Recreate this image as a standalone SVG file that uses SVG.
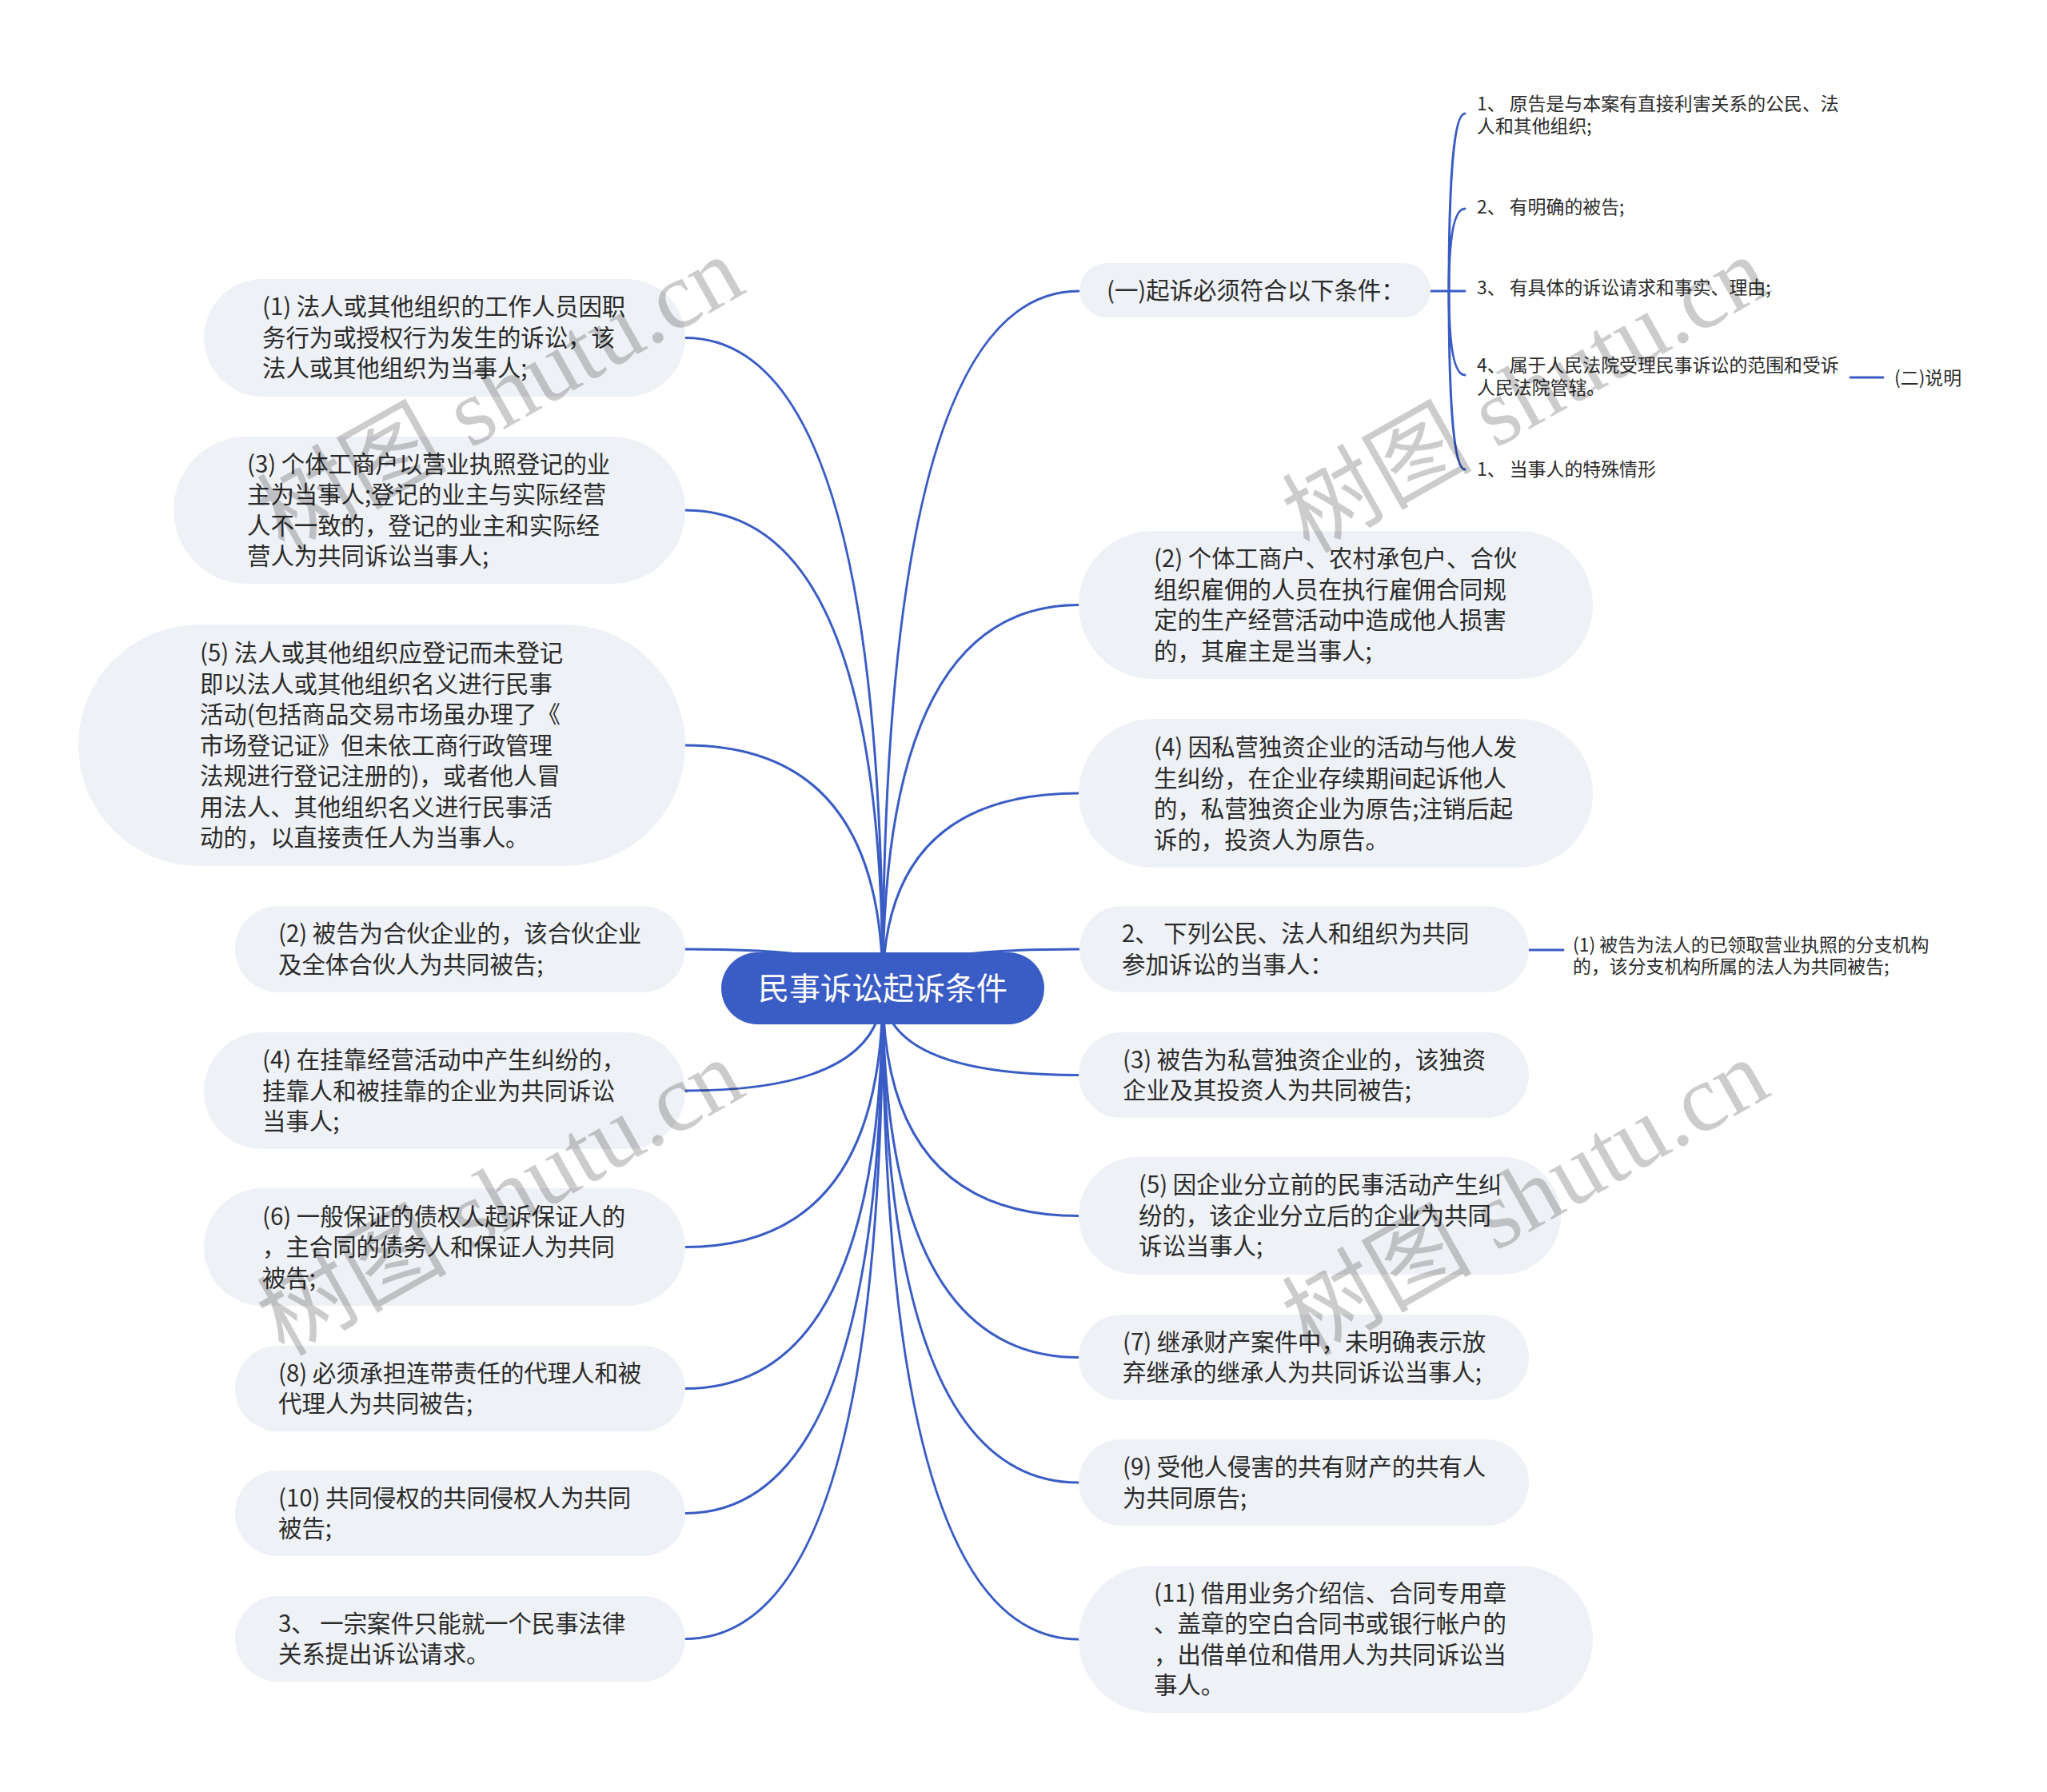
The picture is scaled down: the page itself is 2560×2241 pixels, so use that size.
<svg xmlns="http://www.w3.org/2000/svg" width="2560" height="2241" viewBox="0 0 2560 2241">
<style>
.c{fill:none;stroke:#3a5cc5;stroke-width:3;stroke-linecap:round}
.n{fill:#eef1f5}
.t{font-family:"Noto Sans CJK SC","Noto Sans",sans-serif;font-size:29.4px;fill:#2b2b2b}
.s{font-family:"Noto Sans CJK SC","Noto Sans",sans-serif;font-size:22.9px;fill:#2b2b2b}
.r{font-family:"Noto Sans CJK SC","Noto Sans",sans-serif;font-size:39px;fill:#ffffff}
.w{font-family:"Liberation Serif","Noto Sans CJK SC",serif;font-size:119px;fill:#000000;fill-opacity:0.2}
</style>
<rect width="2560" height="2241" fill="#ffffff"/>
<g id="connectors">
<path class="c" d="M1104 1236 Q1104 364 1349 364"/>
<path class="c" d="M1104 1236 Q1104 756.5 1349 756.5"/>
<path class="c" d="M1104 1236 Q1104 992 1349 992"/>
<path class="c" d="M1104 1236 Q1104 1187 1349 1187"/>
<path class="c" d="M1104 1236 Q1104 1344.5 1349 1344.5"/>
<path class="c" d="M1104 1236 Q1104 1520.5 1349 1520.5"/>
<path class="c" d="M1104 1236 Q1104 1697.5 1349 1697.5"/>
<path class="c" d="M1104 1236 Q1104 1854 1349 1854"/>
<path class="c" d="M1104 1236 Q1104 2050 1349 2050"/>
<path class="c" d="M1104 1236 Q1104 422.5 857 422.5"/>
<path class="c" d="M1104 1236 Q1104 638 857 638"/>
<path class="c" d="M1104 1236 Q1104 932 857 932"/>
<path class="c" d="M1104 1236 Q1104 1187 857 1187"/>
<path class="c" d="M1104 1236 Q1104 1364 857 1364"/>
<path class="c" d="M1104 1236 Q1104 1559.5 857 1559.5"/>
<path class="c" d="M1104 1236 Q1104 1736.5 857 1736.5"/>
<path class="c" d="M1104 1236 Q1104 1892.5 857 1892.5"/>
<path class="c" d="M1104 1236 Q1104 2049.5 857 2049.5"/>
<path class="c" d="M1789 364 H1812"/>
<path class="c" d="M1812 364 Q1812 142 1832 142"/>
<path class="c" d="M1812 364 Q1812 261 1832 261"/>
<path class="c" d="M1812 364 H1832"/>
<path class="c" d="M1812 364 Q1812 469 1832 469"/>
<path class="c" d="M1812 364 Q1812 587 1832 587"/>
<path class="c" d="M2314 472 H2355"/>
<path class="c" d="M1912 1188 H1955"/>
</g>
<g id="root">
<rect x="902" y="1191" width="404" height="90" rx="45" fill="#3a5cc5"/>
<text class="r" x="1104" y="1250" text-anchor="middle">民事诉讼起诉条件</text>
</g>
<g id="n-r1">
<rect class="n" x="1350" y="329" width="439" height="68" rx="34"/>
<text class="t" x="1384" y="374">(一)起诉必须符合以下条件：</text>
</g>
<g id="n-r1-1"><text class="s" x="1847"><tspan x="1847" y="138">1、 原告是与本案有直接利害关系的公民、法</tspan><tspan x="1847" y="166">人和其他组织;</tspan></text></g>
<g id="n-r1-2"><text class="s" x="1847" y="267">2、 有明确的被告;</text></g>
<g id="n-r1-3"><text class="s" x="1847" y="368">3、 有具体的诉讼请求和事实、理由;</text></g>
<g id="n-r1-4"><text class="s" x="1847"><tspan x="1847" y="465">4、 属于人民法院受理民事诉讼的范围和受诉</tspan><tspan x="1847" y="493">人民法院管辖。</tspan></text></g>
<g id="n-r1-4-1"><text class="s" x="2369" y="481">(二)说明</text></g>
<g id="n-r1-5"><text class="s" x="1847" y="595">1、 当事人的特殊情形</text></g>
<g id="n-r2">
<rect class="n" x="1349" y="664" width="643" height="185" rx="92.5"/>
<text class="t"><tspan x="1443" y="709">(2) 个体工商户、农村承包户、合伙</tspan><tspan x="1443" y="748">组织雇佣的人员在执行雇佣合同规</tspan><tspan x="1443" y="786">定的生产经营活动中造成他人损害</tspan><tspan x="1443" y="825">的，其雇主是当事人;</tspan></text>
</g>
<g id="n-r3">
<rect class="n" x="1349" y="899" width="643" height="186" rx="93"/>
<text class="t"><tspan x="1443" y="945">(4) 因私营独资企业的活动与他人发</tspan><tspan x="1443" y="984">生纠纷，在企业存续期间起诉他人</tspan><tspan x="1443" y="1022">的，私营独资企业为原告;注销后起</tspan><tspan x="1443" y="1061">诉的，投资人为原告。</tspan></text>
</g>
<g id="n-r4">
<rect class="n" x="1350" y="1133" width="562" height="108" rx="54"/>
<text class="t"><tspan x="1403" y="1178">2、 下列公民、法人和组织为共同</tspan><tspan x="1403" y="1217">参加诉讼的当事人：</tspan></text>
</g>
<g id="n-r4-1"><text class="s"><tspan x="1967" y="1190">(1) 被告为法人的已领取营业执照的分支机构</tspan><tspan x="1967" y="1217">的，该分支机构所属的法人为共同被告;</tspan></text></g>
<g id="n-r5">
<rect class="n" x="1349" y="1291" width="563" height="107" rx="53.5"/>
<text class="t"><tspan x="1404" y="1336">(3) 被告为私营独资企业的，该独资</tspan><tspan x="1404" y="1374">企业及其投资人为共同被告;</tspan></text>
</g>
<g id="n-r6">
<rect class="n" x="1349" y="1447" width="603" height="147" rx="73.5"/>
<text class="t"><tspan x="1424" y="1492">(5) 因企业分立前的民事活动产生纠</tspan><tspan x="1424" y="1531">纷的，该企业分立后的企业为共同</tspan><tspan x="1424" y="1569">诉讼当事人;</tspan></text>
</g>
<g id="n-r7">
<rect class="n" x="1349" y="1644" width="563" height="107" rx="53.5"/>
<text class="t"><tspan x="1404" y="1689">(7) 继承财产案件中，未明确表示放</tspan><tspan x="1404" y="1727">弃继承的继承人为共同诉讼当事人;</tspan></text>
</g>
<g id="n-r8">
<rect class="n" x="1349" y="1800" width="563" height="108" rx="54"/>
<text class="t"><tspan x="1404" y="1845">(9) 受他人侵害的共有财产的共有人</tspan><tspan x="1404" y="1884">为共同原告;</tspan></text>
</g>
<g id="n-r9">
<rect class="n" x="1349" y="1958" width="643" height="184" rx="92"/>
<text class="t"><tspan x="1443" y="2003">(11) 借用业务介绍信、合同专用章</tspan><tspan x="1443" y="2041">、盖章的空白合同书或银行帐户的</tspan><tspan x="1443" y="2080">，出借单位和借用人为共同诉讼当</tspan><tspan x="1443" y="2118">事人。</tspan></text>
</g>
<g id="n-l1">
<rect class="n" x="255" y="349" width="602" height="147" rx="73.5"/>
<text class="t"><tspan x="328" y="394">(1) 法人或其他组织的工作人员因职</tspan><tspan x="328" y="433">务行为或授权行为发生的诉讼，该</tspan><tspan x="328" y="471">法人或其他组织为当事人;</tspan></text>
</g>
<g id="n-l2">
<rect class="n" x="217" y="546" width="640" height="184" rx="92"/>
<text class="t"><tspan x="309" y="591">(3) 个体工商户以营业执照登记的业</tspan><tspan x="309" y="629">主为当事人;登记的业主与实际经营</tspan><tspan x="309" y="668">人不一致的，登记的业主和实际经</tspan><tspan x="309" y="706">营人为共同诉讼当事人;</tspan></text>
</g>
<g id="n-l3">
<rect class="n" x="98" y="781" width="759" height="302" rx="151"/>
<text class="t"><tspan x="250" y="827">(5) 法人或其他组织应登记而未登记</tspan><tspan x="250" y="866">即以法人或其他组织名义进行民事</tspan><tspan x="250" y="904">活动(包括商品交易市场虽办理了《</tspan><tspan x="250" y="943">市场登记证》但未依工商行政管理</tspan><tspan x="250" y="981">法规进行登记注册的)，或者他人冒</tspan><tspan x="250" y="1020">用法人、其他组织名义进行民事活</tspan><tspan x="250" y="1058">动的，以直接责任人为当事人。</tspan></text>
</g>
<g id="n-l4">
<rect class="n" x="294" y="1133" width="563" height="108" rx="54"/>
<text class="t"><tspan x="348" y="1178">(2) 被告为合伙企业的，该合伙企业</tspan><tspan x="348" y="1217">及全体合伙人为共同被告;</tspan></text>
</g>
<g id="n-l5">
<rect class="n" x="255" y="1291" width="602" height="146" rx="73"/>
<text class="t"><tspan x="328" y="1336">(4) 在挂靠经营活动中产生纠纷的，</tspan><tspan x="328" y="1375">挂靠人和被挂靠的企业为共同诉讼</tspan><tspan x="328" y="1413">当事人;</tspan></text>
</g>
<g id="n-l6">
<rect class="n" x="255" y="1486" width="602" height="147" rx="73.5"/>
<text class="t"><tspan x="328" y="1532">(6) 一般保证的债权人起诉保证人的</tspan><tspan x="328" y="1570">，主合同的债务人和保证人为共同</tspan><tspan x="328" y="1609">被告;</tspan></text>
</g>
<g id="n-l7">
<rect class="n" x="294" y="1683" width="563" height="107" rx="53.5"/>
<text class="t"><tspan x="348" y="1728">(8) 必须承担连带责任的代理人和被</tspan><tspan x="348" y="1766">代理人为共同被告;</tspan></text>
</g>
<g id="n-l8">
<rect class="n" x="294" y="1839" width="563" height="107" rx="53.5"/>
<text class="t"><tspan x="348" y="1884">(10) 共同侵权的共同侵权人为共同</tspan><tspan x="348" y="1922">被告;</tspan></text>
</g>
<g id="n-l9">
<rect class="n" x="294" y="1996" width="563" height="107" rx="53.5"/>
<text class="t"><tspan x="348" y="2041">3、 一宗案件只能就一个民事法律</tspan><tspan x="348" y="2079">关系提出诉讼请求。</tspan></text>
</g>
<g id="watermarks">
<text class="w" transform="translate(355 693) rotate(-29.5)">树图 shutu.cn</text>
<text class="w" transform="translate(1637 693) rotate(-29.5)">树图 shutu.cn</text>
<text class="w" transform="translate(355 1697) rotate(-29.5)">树图 shutu.cn</text>
<text class="w" transform="translate(1637 1697) rotate(-29.5)">树图 shutu.cn</text>
</g>
</svg>
